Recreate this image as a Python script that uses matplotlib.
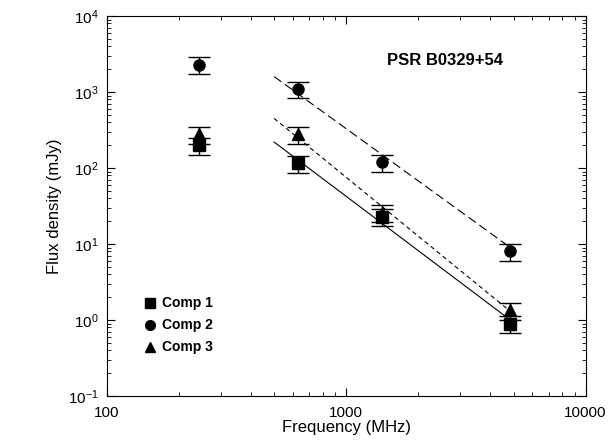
import matplotlib
matplotlib.use("Agg")
import matplotlib.pyplot as plt
import numpy as np
from matplotlib.ticker import LogLocator, NullFormatter

plt.rcParams['font.family'] = ['Liberation Sans', 'DejaVu Sans']
plt.rcParams['mathtext.fontset'] = 'custom'
plt.rcParams['mathtext.rm'] = 'Liberation Sans'

freq = [243, 630, 1410, 4850]
comp1 = [200, 115, 23, 0.9]
comp2 = [2300, 1100, 120, 8.0]
comp3 = [280, 280, 26, 1.35]
fit_f = [500, 4850]
fit1 = [220, 1.0]
fit2 = [1600, 9.0]
fit3 = [450, 1.3]

fig = plt.figure(figsize=(6.10, 4.46), dpi=100)
ax = fig.add_axes([0.175, 0.112, 0.785, 0.852])
for y, m in [(comp1, 's'), (comp2, 'o'), (comp3, '^')]:
    y = np.array(y)
    ax.errorbar(freq, y, yerr=0.25 * y, fmt=m, color='black', ms=8, capsize=8, elinewidth=1, capthick=1)
ax.plot(fit_f, fit1, '-', color='black', lw=0.8)
ax.plot(fit_f, fit2, '--', color='black', lw=0.8, dashes=(8, 4))
ax.plot(fit_f, fit3, '--', color='black', lw=0.8, dashes=(4, 3))
ax.set_xscale('log'); ax.set_yscale('log')
ax.set_xlim(100, 10000); ax.set_ylim(0.1, 1e4)
ax.set_xticks([100, 1000, 10000]); ax.set_xticklabels(['100', '1000', '10000'])
ax.xaxis.set_minor_locator(LogLocator(subs=np.arange(2, 10)))
ax.xaxis.set_minor_formatter(NullFormatter())
ax.yaxis.set_minor_locator(LogLocator(subs=np.arange(2, 10)))
ax.yaxis.set_minor_formatter(NullFormatter())
ax.tick_params(which='both', direction='in', top=True, right=True, labelsize=11)
ax.tick_params(which='major', length=6)
ax.tick_params(which='minor', length=3)
ax.tick_params(axis='x', pad=7)
ax.tick_params(axis='y', pad=6)
ax.set_xlabel('Frequency (MHz)', fontsize=12, labelpad=0)
ax.set_ylabel('Flux density (mJy)', fontsize=12)
ax.text(0.585, 0.87, 'PSR B0329+54', transform=ax.transAxes, fontsize=12, fontweight='bold')
for i, (m, lab) in enumerate([('s', 'Comp 1'), ('o', 'Comp 2'), ('^', 'Comp 3')]):
    yy = 0.245 - i * 0.058
    ax.plot([0.09], [yy], m, color='black', ms=7, transform=ax.transAxes)
    ax.text(0.115, yy, lab, transform=ax.transAxes, fontsize=10, fontweight='bold', va='center')
fig.savefig('out.png')
